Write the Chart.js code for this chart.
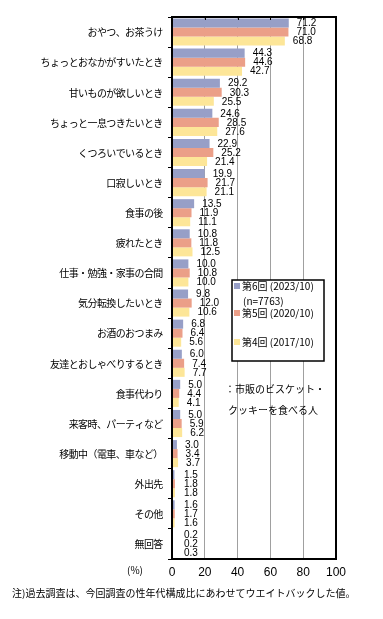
<!DOCTYPE html>
<html><head><meta charset="utf-8">
<script src="https://cdn.jsdelivr.net/npm/chart.js@4/dist/chart.umd.min.js"></script>
<style>html,body{margin:0;padding:0;background:#fff;}#wrap{width:383px;height:619px;}</style>
</head><body><div id="wrap"><canvas id="c" width="383" height="619"></canvas></div>
<script>
const categories = ["おやつ、お茶うけ","ちょっとおなかがすいたとき","甘いものが欲しいとき","ちょっと一息つきたいとき","くつろいでいるとき","口寂しいとき","食事の後","疲れたとき","仕事・勉強・家事の合間","気分転換したいとき","お酒のおつまみ","友達とおしゃべりするとき","食事代わり","来客時、パーティなど","移動中（電車、車など）","外出先","その他","無回答"];
const seriesNames = ["第6回 (2023/10)","第5回 (2020/10)","第4回 (2017/10)"];
const round6 = [71.2,44.3,29.2,24.6,22.9,19.9,13.5,10.8,10.0,9.8,6.8,6.0,5.0,5.0,3.0,1.5,1.6,0.2];
const round5 = [71.0,44.6,30.3,28.5,25.2,21.7,11.9,11.8,10.8,12.0,6.4,7.4,4.4,5.9,3.4,1.8,1.7,0.2];
const round4 = [68.8,42.7,25.5,27.6,21.4,21.1,11.1,12.5,10.0,10.6,5.6,7.7,4.1,6.2,3.7,1.8,1.6,0.3];
const xTicks = [0,20,40,60,80,100];
const sampleNote = "(n=7763)";
const targetNote = ["：市販のビスケット・","クッキーを食べる人"];
const unitLabel = "(%)";
const footNote = "注)過去調査は、今回調査の性年代構成比にあわせてウエイトバックした値。";

const colors = ["#979fc7","#eb9f88","#fde698"];
const JP = '"Noto Sans CJK JP", sans-serif';
const NUM = '"Liberation Sans Narrow", "Liberation Sans", sans-serif';

const extras = {
  id:'extras',
  afterDatasetsDraw(chart){
    const ctx = chart.ctx, a = chart.chartArea;
    ctx.save();
    // category labels, fixed character pitch
    const ys = chart.scales.y;
    ctx.fillStyle = '#000';
    ctx.font = '10px ' + JP;
    ctx.textAlign = 'center'; ctx.textBaseline = 'middle';
    const pitch = 9.4, rightEdge = a.left - 9;
    chart.data.labels.forEach((lab,i)=>{
      const y = ys.getPixelForTick(i);
      const chars = Array.from(lab);
      const start = rightEdge - chars.length * pitch;
      chars.forEach((ch,k)=> ctx.fillText(ch, start + (k + 0.5) * pitch, y + 0.5));
    });
    // data labels
    ctx.font = '10px ' + NUM;
    ctx.textAlign = 'left';
    chart.data.datasets.forEach((ds,i)=>{
      chart.getDatasetMeta(i).data.forEach((bar,j)=>{
        const x = Math.max(bar.x + 8, a.left + 12);
        ctx.fillText(ds.data[j].toFixed(1), x, bar.y + 0.5);
      });
    });
    // top ticks
    ctx.strokeStyle = '#000'; ctx.lineWidth = 1;
    const xs = chart.scales.x;
    xTicks.slice(1,-1).forEach(v=>{
      const px = Math.round(xs.getPixelForValue(v)) + 0.5;
      ctx.beginPath(); ctx.moveTo(px, a.top); ctx.lineTo(px, a.top + 3); ctx.stroke();
    });
    // frame
    ctx.lineWidth = 2;
    ctx.strokeRect(a.left, a.top, a.right - a.left, a.bottom - a.top);
    // legend box
    ctx.fillStyle = '#fff';
    ctx.fillRect(232, 280, 92, 81);
    ctx.lineWidth = 1.5; ctx.strokeStyle = '#000';
    ctx.strokeRect(232, 280, 92, 81);
    ctx.font = '10px ' + JP;
    const rows = [286, 313, 342];
    chart.data.datasets.forEach((ds,i)=>{
      ctx.fillStyle = ds.backgroundColor;
      ctx.fillRect(234, rows[i]-3, 6, 6);
      ctx.fillStyle = '#000';
      ctx.fillText(ds.label, 242, rows[i]);
    });
    ctx.fillText(sampleNote, 243, 301);
    ctx.fillText(targetNote[0], 225, 389);
    ctx.fillText(targetNote[1], 228, 410);
    ctx.fillText(unitLabel, 127, 570);
    ctx.fillText(footNote, 12, 593);
    ctx.restore();
  }
};

new Chart(document.getElementById('c'), {
  type:'bar',
  data:{
    labels: categories,
    datasets:[
      {label:seriesNames[0], data:round6, backgroundColor:colors[0]},
      {label:seriesNames[1], data:round5, backgroundColor:colors[1]},
      {label:seriesNames[2], data:round4, backgroundColor:colors[2]}
    ]
  },
  options:{
    indexAxis:'y',
    responsive:false,
    animation:false,
    layout:{padding:{top:17,right:47,left:0,bottom:0}},
    datasets:{bar:{categoryPercentage:0.9,barPercentage:1.0,borderWidth:0}},
    plugins:{legend:{display:false},tooltip:{enabled:false}},
    scales:{
      x:{
        min:0,max:100,
        afterFit(s){ s.height = 60; },
        afterBuildTicks(s){ s.ticks = xTicks.map(v=>({value:v})); },
        border:{display:false},
        grid:{color:'#a0a0a0',borderDash:[3,2],drawTicks:false,lineWidth:1},
        ticks:{color:'#000',font:{family:NUM,size:12},padding:6}
      },
      y:{
        afterFit(s){ s.width = 172; },
        border:{display:false},
        grid:{drawOnChartArea:false,color:'#000',tickLength:4,offset:true},
        ticks:{display:false}
      }
    }
  },
  plugins:[extras]
});
</script></body></html>
